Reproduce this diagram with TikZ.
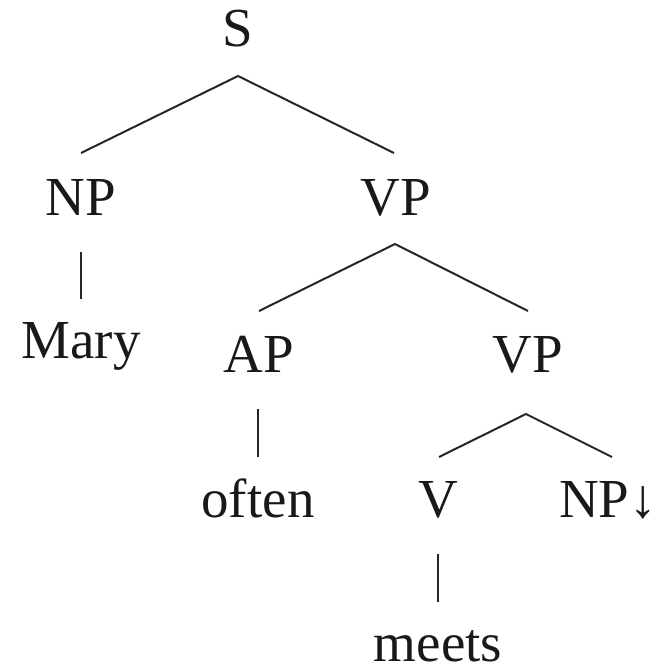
\documentclass[tikz,border=0pt]{standalone}
\usepackage{fontspec}
\setmainfont{Liberation Serif}
\begin{document}
\begin{tikzpicture}[x=1pt,y=-1pt,
  lbl/.style={anchor=base,inner sep=0pt,font=\fontsize{55}{60}\selectfont,text=black!90},
  edge/.style={line width=2pt,black!85}]
\useasboundingbox (0,0) rectangle (662,669);
% labels
\node[lbl] (S) at (238,47) {S};
\node[lbl] (NP) at (81,215) {NP};
\node[lbl] (VP) at (396,215) {VP};
\node[lbl] (Mary) at (81,358) {Mary};
\node[lbl] (AP) at (259,372) {AP};
\node[lbl] (VPb) at (528,372) {VP};
\node[lbl] (often) at (258,517) {often};
\node[lbl] (V) at (438,517) {V};
\node[lbl] (NPs) at (608,517) {NP↓};
\node[lbl] (meets) at (438,661) {meets};
% connector ends
\coordinate (S-b) at (238,76);
\coordinate (NP-t) at (81,153);
\coordinate (VP-t) at (394,153);
\coordinate (NP-b) at (81,252);
\coordinate (Mary-t) at (81,299);
\coordinate (VP-b) at (395,244);
\coordinate (AP-t) at (259,311);
\coordinate (VPb-t) at (528,311);
\coordinate (AP-b) at (258,409);
\coordinate (often-t) at (258,457);
\coordinate (VPb-b) at (526,414);
\coordinate (V-t) at (439,457);
\coordinate (NPs-t) at (612,457);
\coordinate (V-b) at (438,554);
\coordinate (meets-t) at (438,602);
% connectors
\draw[edge] (NP-t) -- (S-b) -- (VP-t);
\draw[edge] (NP-b) -- (Mary-t);
\draw[edge] (AP-t) -- (VP-b) -- (VPb-t);
\draw[edge] (AP-b) -- (often-t);
\draw[edge] (V-t) -- (VPb-b) -- (NPs-t);
\draw[edge] (V-b) -- (meets-t);
\end{tikzpicture}
\end{document}
